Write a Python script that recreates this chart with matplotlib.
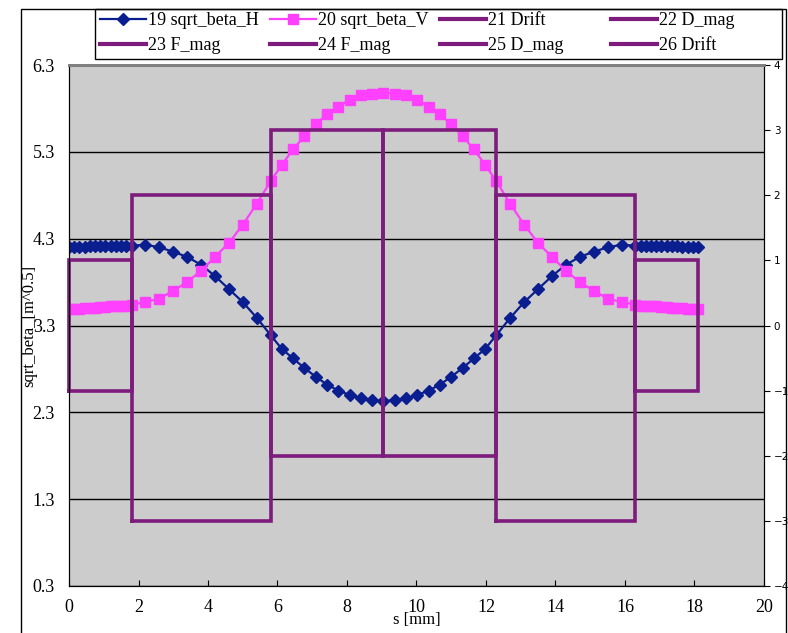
import matplotlib
matplotlib.use('Agg')
import matplotlib.pyplot as plt
from matplotlib.lines import Line2D
from matplotlib.patches import Rectangle

# lattice positions along s [mm]
s = [0, 0.15, 0.3, 0.45, 0.6, 0.75, 0.9, 1.05, 1.2, 1.35, 1.5, 1.65, 1.8,
     2.2, 2.6, 3.0, 3.4, 3.8, 4.2, 4.6, 5.0, 5.4, 5.8,
     6.125, 6.45, 6.775, 7.1, 7.425, 7.75, 8.075, 8.4, 8.725, 9.05,
     9.375, 9.7, 10.025, 10.35, 10.675, 11.0, 11.325, 11.65, 11.975, 12.3,
     12.7, 13.1, 13.5, 13.9, 14.3, 14.7, 15.1, 15.5, 15.9, 16.3,
     16.45, 16.6, 16.75, 16.9, 17.05, 17.2, 17.35, 17.5, 17.65, 17.8, 17.95, 18.1]

sqrt_beta_H = [4.20, 4.20, 4.20, 4.20, 4.21, 4.21, 4.21, 4.21, 4.21, 4.22, 4.22, 4.22, 4.22,
               4.23, 4.20, 4.15, 4.09, 4.00, 3.87, 3.72, 3.57, 3.39, 3.19,
               3.03, 2.92, 2.81, 2.71, 2.62, 2.55, 2.50, 2.46, 2.44, 2.43,
               2.44, 2.46, 2.50, 2.55, 2.62, 2.71, 2.81, 2.92, 3.03, 3.19,
               3.39, 3.57, 3.72, 3.87, 4.00, 4.09, 4.15, 4.20, 4.23, 4.22,
               4.22, 4.22, 4.22, 4.21, 4.21, 4.21, 4.21, 4.21, 4.20, 4.20, 4.20, 4.20]

sqrt_beta_V = [3.49, 3.49, 3.49, 3.50, 3.50, 3.50, 3.51, 3.51, 3.52, 3.52, 3.53, 3.53, 3.54,
               3.57, 3.61, 3.70, 3.80, 3.93, 4.09, 4.25, 4.46, 4.70, 4.96,
               5.15, 5.33, 5.48, 5.62, 5.73, 5.82, 5.90, 5.95, 5.97, 5.98,
               5.97, 5.95, 5.90, 5.82, 5.73, 5.62, 5.48, 5.33, 5.15, 4.96,
               4.70, 4.46, 4.25, 4.09, 3.93, 3.80, 3.70, 3.61, 3.57, 3.54,
               3.53, 3.53, 3.52, 3.52, 3.51, 3.51, 3.50, 3.50, 3.50, 3.49, 3.49, 3.49]

# magnet / drift elements (right axis)
elem_names = ['21 Drift', '22 D_mag', '23 F_mag', '24 F_mag', '25 D_mag', '26 Drift']
elem_start = [0, 1.8, 5.8, 9.05, 12.3, 16.3]
elem_end = [1.8, 5.8, 9.05, 12.3, 16.3, 18.1]
elem_top = [1, 2, 3, 3, 2, 1]
elem_bottom = [-1, -3, -2, -2, -3, -1]

blue = '#0A1E8F'
pink = '#FF40FF'
purple = '#7D1C7D'
serif = 'Liberation Serif'

fig = plt.figure(figsize=(7.88, 6.33), dpi=100)
ax = fig.add_axes([69/788, 1 - 586/633, (764 - 69)/788, (586 - 65)/633])
ax.set_facecolor('#CCCCCC')

ax.plot(s, sqrt_beta_H, color=blue, lw=1.6, marker='D', ms=6.5, mec=blue, mfc=blue, zorder=3)
ax.plot(s, sqrt_beta_V, color=pink, lw=1.6, marker='s', ms=7, mec=pink, mfc=pink, zorder=3)

ax.set_xlim(0, 20)
ax.set_ylim(0.3, 6.3)
ax.set_xticks(range(0, 21, 2))
ax.set_yticks([0.3, 1.3, 2.3, 3.3, 4.3, 5.3, 6.3])
ax.set_yticklabels(['0.3', '1.3', '2.3', '3.3', '4.3', '5.3', '6.3'])
ax.yaxis.grid(True, color='black', lw=1)
ax.set_axisbelow(True)
ax.tick_params(axis='x', direction='in', length=4, pad=9, labelsize=13)
ax.tick_params(axis='y', direction='in', length=0, pad=10, labelsize=13)
for lab in ax.get_xticklabels() + ax.get_yticklabels():
    lab.set_fontfamily(serif)
ax.set_xlabel('s [mm]', fontsize=12, fontfamily=serif)
ax.xaxis.set_label_coords(0.5, -0.05)
ax.set_ylabel('sqrt_beta_[m^0.5]', fontsize=12, fontfamily=serif)
ax.yaxis.set_label_coords(-0.046, 0.5)
ax.spines['top'].set_color('#808080')
ax.spines['top'].set_linewidth(2)

ax2 = ax.twinx()
for i in range(len(elem_names)):
    xs = [elem_start[i], elem_start[i], elem_end[i], elem_end[i], elem_start[i]]
    ys = [elem_bottom[i], elem_top[i], elem_top[i], elem_bottom[i], elem_bottom[i]]
    ax2.plot(xs, ys, color=purple, lw=2.6, solid_joinstyle='miter', clip_on=False)
ax2.set_ylim(-4, 4)
ax2.set_yticks(range(-4, 5))
ax2.tick_params(axis='y', direction='out', length=4, pad=3, labelsize=7.5)
ax2.spines['top'].set_color('#808080')
ax2.spines['top'].set_linewidth(2)

# outer chart frame
fig.patches.append(Rectangle((21/788, -0.02), (786 - 21)/788, 1.02 - 9/633,
                             transform=fig.transFigure, fill=False, ec='black', lw=1))
# legend box
fig.patches.append(Rectangle((95/788, 1 - 59/633), (782 - 95)/788, 50/633,
                             transform=fig.transFigure, fill=False, ec='black', lw=1))

h_H = Line2D([], [], color=blue, lw=1.6, marker='D', ms=6.5, mec=blue, mfc=blue)
h_V = Line2D([], [], color=pink, lw=1.6, marker='s', ms=7, mec=pink, mfc=pink)
h_E = [Line2D([], [], color=purple, lw=3) for _ in elem_names]
columns = [([h_H, h_E[2]], ['19 sqrt_beta_H', elem_names[2]]),
           ([h_V, h_E[3]], ['20 sqrt_beta_V', elem_names[3]]),
           ([h_E[0], h_E[4]], [elem_names[0], elem_names[4]]),
           ([h_E[1], h_E[5]], [elem_names[1], elem_names[5]])]
col_x = [100, 270, 440, 611]
for (hs, labs), x0 in zip(columns, col_x):
    leg = fig.legend(hs, labs, loc='center left', bbox_to_anchor=(x0/788, 1 - 33/633),
                     frameon=False, borderpad=0, borderaxespad=0, handlelength=2.55,
                     handletextpad=0.1, labelspacing=0.45, prop={'family': serif, 'size': 13})

fig.savefig('out.png', dpi=100)
